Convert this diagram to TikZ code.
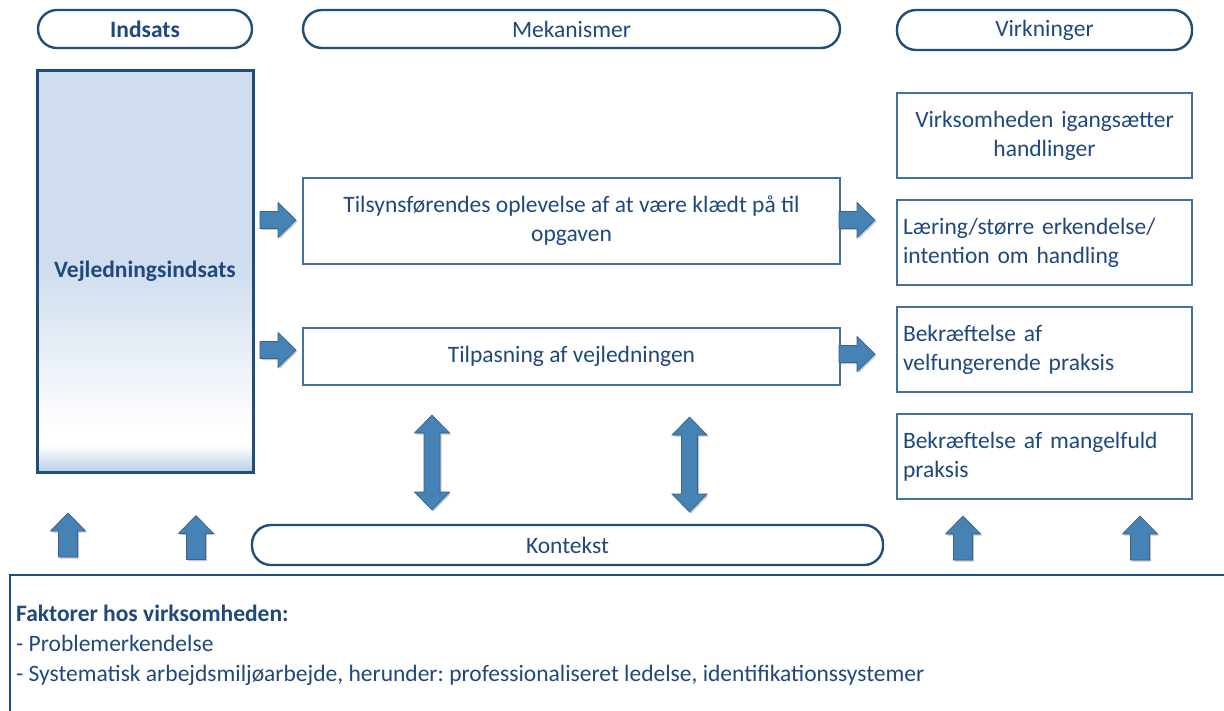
\documentclass[tikz,border=0pt]{standalone}
\usepackage{fontspec}
\setmainfont{Carlito}
\frenchspacing
\usetikzlibrary{shadows}
\definecolor{txt}{RGB}{31,73,125}
\definecolor{dk}{RGB}{31,78,121}
\definecolor{bx}{RGB}{65,113,156}
\definecolor{arr}{RGB}{70,130,180}
\definecolor{arrd}{RGB}{52,98,145}
\definecolor{lb}{RGB}{207,221,238}
\definecolor{lb2}{RGB}{186,206,229}
\tikzset{
  pill/.style={draw=dk, line width=2.4pt, rounded corners=19pt, inner sep=0pt},
  box/.style={draw=bx, line width=1.1pt, inner sep=0pt},
  rbox/.style={box, text width=283pt, inner xsep=6pt, minimum height=85pt, align=left},
  mbox/.style={box, minimum width=537pt, align=center},
  arrsty/.style={fill=arr, draw=arrd, line width=0.7pt, line join=miter,
    drop shadow={shadow xshift=1.5pt, shadow yshift=-1.5pt, opacity=0.22, fill=black}},
  rarr/.pic={\path[arrsty] (-18,-8.5) -- (0,-8.5) -- (0,-17.5) -- (18,0) -- (0,17.5) -- (0,8.5) -- (-18,8.5) -- cycle;},
  uarr/.pic={\path[arrsty] (-9.5,22) -- (-9.5,-4) -- (-17.5,-4) -- (0,-22) -- (17.5,-4) -- (9.5,-4) -- (9.5,22) -- cycle;},
  darr/.pic={\path[arrsty] (0,-47.5) -- (17.5,-29.5) -- (8,-29.5) -- (8,29.5) -- (17.5,29.5) -- (0,47.5) -- (-17.5,29.5) -- (-8,29.5) -- (-8,-29.5) -- (-17.5,-29.5) -- cycle;}
}
\begin{document}
\begin{tikzpicture}[x=1pt,y=-1pt,font=\fontsize{23.5}{29}\selectfont,text=txt]
\useasboundingbox (0,0) rectangle (1224,710);
\fill[white] (0,0) rectangle (1224,710);

% header pills
\node[pill, minimum width=214pt, minimum height=38pt] (hin) at (145,29) {\bfseries Indsats};
\node[pill, minimum width=537pt, minimum height=38pt] (hme) at (571.5,29) {Mekanismer};
\node[pill, minimum width=295pt, minimum height=40pt] (hvi) at (1044.5,30) {Virkninger};

% input box with gradient
\fill[lb] (37,70) rectangle (253,266);
\shade[top color=lb, bottom color=white] (37,265) rectangle (253,432);
\fill[white] (37,431) rectangle (253,446);
\shade[top color=white, bottom color=lb2] (37,445) rectangle (253,472);
\node[draw=dk, line width=3pt, minimum width=216pt, minimum height=402pt, inner sep=0pt] (vej) at (145,271) {\bfseries Vejledningsindsats};

% mechanism boxes
\node[mbox, minimum height=86pt] (m1) at (571.5,221) {Tilsynsførendes oplevelse af at være klædt på til\\opgaven};
\node[mbox, minimum height=57pt] (m2) at (571.5,356.5) {Tilpasning af vejledningen};

% effect boxes
\node[rbox, align=center] (v1) at (1044.5,135.5) {Virksomheden igangsætter\\handlinger};
\node[rbox] (v2) at (1044.5,242.5) {Læring/større erkendelse/\\intention om handling};
\node[rbox] (v3) at (1044.5,349.5) {Bekræftelse af\\velfungerende praksis};
\node[rbox] (v4) at (1044.5,456.5) {Bekræftelse af mangelfuld\\praksis};

% context pill
\node[pill, minimum width=631pt, minimum height=40pt] (kon) at (567.5,545) {Kontekst};

% block arrows
\pic (a1) at (278,220) {rarr};
\pic (a2) at (278,350) {rarr};
\pic (a3) at (857,220) {rarr};
\pic (a4) at (857,354) {rarr};
\pic (d1) at (432,462.5) {darr};
\pic (d2) at (689.5,464.5) {darr};
\pic (u1) at (68,535) {uarr};
\pic (u2) at (196,537.5) {uarr};
\pic (u3) at (963,538) {uarr};
\pic (u4) at (1140,538) {uarr};

% factors box
\begin{scope}
\clip (0,0) rectangle (1224,710);
\draw[draw=dk, line width=1.3pt] (10,575) rectangle (1240,730);
\end{scope}
\node[anchor=base west, inner sep=0pt] (f1) at (16,621) {\bfseries Faktorer hos virksomheden:};
\node[anchor=base west, inner sep=0pt] (f2) at (16,651) {- Problemerkendelse};
\node[anchor=base west, inner sep=0pt] (f3) at (16,681) {- Systematisk arbejdsmiljøarbejde, herunder: professionaliseret ledelse, identifikationssystemer};
\end{tikzpicture}
\end{document}
